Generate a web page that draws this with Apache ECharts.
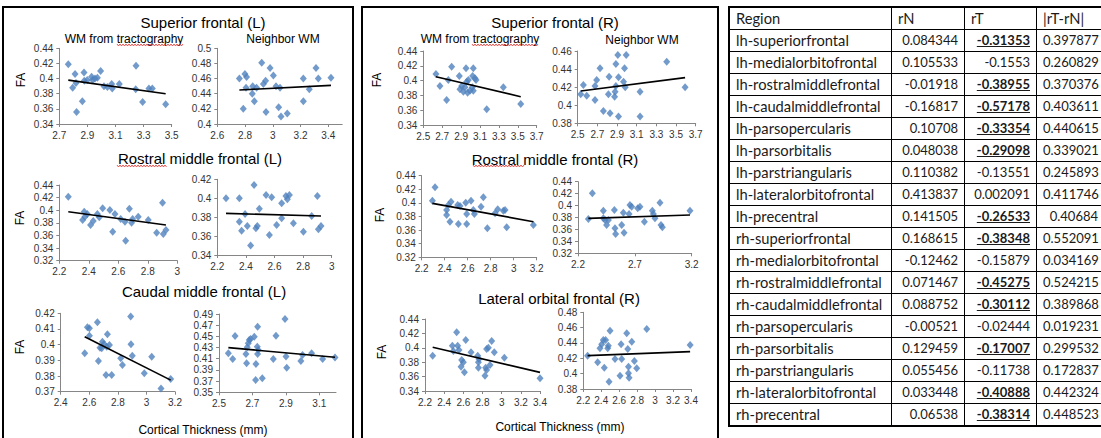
<!DOCTYPE html>
<html>
<head>
<meta charset="utf-8">
<script src="https://cdn.jsdelivr.net/npm/echarts@6/dist/echarts.min.js"></script>
<style>
html, body { margin: 0; padding: 0; width: 1101px; height: 438px; overflow: hidden; background: #fff; }
#chart { position: absolute; left: 0; top: 0; width: 725px; height: 438px; }
#tbl { position: absolute; left: 728px; top: 6px; border-collapse: separate; border-spacing: 0; table-layout: fixed;
       width: 373px; border-top: 2px solid #000; border-left: 2px solid #000;
       font-family: Lato, 'Liberation Sans', sans-serif; font-size: 14.7px; color: #1a1a1a; }
#tbl td { box-sizing: border-box; border-right: 1px solid #000; border-bottom: 1px solid #000; height: 22px;
          padding: 0 6px 0 6px; white-space: nowrap; overflow: hidden; line-height: 21px; }
#tbl tr:last-child td { border-bottom: 2px solid #000; height: 23px; }
#tbl td:last-child { border-right: none; padding-right: 3px; }
#tbl td.num { text-align: right; font-size: 13px; }
#tbl td.sig { font-weight: bold; text-decoration: underline; }
</style>
</head>
<body>
<div id="chart"></div>
<table id="tbl">
  <colgroup><col style="width:162px"><col style="width:73px"><col style="width:72px"><col style="width:64px"></colgroup>
  <tbody id="tbody"></tbody>
</table>
<script>
// ---- scatter data [cortical thickness, FA] ----
const sfL_tract = [[2.764,0.419],[2.795,0.388],[2.812,0.406],[2.819,0.394],[2.823,0.356],[2.864,0.370],[2.876,0.408],[2.878,0.397],[2.899,0.398],[2.930,0.4025],[2.937,0.398],[2.954,0.400],[2.971,0.401],[2.994,0.410],[3.018,0.390],[3.042,0.389],[3.073,0.393],[3.077,0.387],[3.127,0.393],[3.246,0.417],[3.244,0.386],[3.293,0.369],[3.338,0.387],[3.362,0.387],[3.457,0.366]];
const sfL_tract_fit = [[2.764,0.398],[3.457,0.380]];
const sfL_neigh = [[2.759,0.460],[2.787,0.420],[2.799,0.466],[2.811,0.462],[2.807,0.448],[2.852,0.440],[2.855,0.450],[2.867,0.430],[2.883,0.448],[2.920,0.481],[2.932,0.453],[2.948,0.457],[2.951,0.416],[2.980,0.474],[3.004,0.464],[3.023,0.450],[3.042,0.422],[3.052,0.448],[3.059,0.410],[3.104,0.414],[3.220,0.430],[3.220,0.460],[3.263,0.446],[3.311,0.474],[3.328,0.460],[3.419,0.461]];
const sfL_neigh_fit = [[2.759,0.445],[3.419,0.451]];

const rmfL_tract = [[2.261,0.4215],[2.358,0.3845],[2.369,0.3977],[2.374,0.3898],[2.390,0.394],[2.412,0.3766],[2.430,0.383],[2.458,0.394],[2.471,0.3887],[2.494,0.403],[2.543,0.4004],[2.562,0.366],[2.577,0.394],[2.616,0.386],[2.645,0.3818],[2.650,0.3517],[2.675,0.4025],[2.690,0.380],[2.697,0.386],[2.735,0.3898],[2.803,0.3845],[2.860,0.3644],[2.900,0.412],[2.905,0.3623],[2.923,0.3686]];
const rmfL_tract_fit = [[2.261,0.3977],[2.923,0.3766]];
const rmfL_neigh = [[2.261,0.400],[2.354,0.400],[2.354,0.3752],[2.370,0.3657],[2.394,0.3833],[2.410,0.3707],[2.433,0.350],[2.457,0.414],[2.470,0.3682],[2.480,0.3707],[2.494,0.389],[2.541,0.4034],[2.564,0.3611],[2.580,0.401],[2.615,0.3717],[2.650,0.3946],[2.650,0.3788],[2.680,0.4024],[2.690,0.3989],[2.704,0.4034],[2.732,0.3735],[2.802,0.3647],[2.860,0.3812],[2.900,0.4024],[2.907,0.3671],[2.925,0.3707]];
const rmfL_neigh_fit = [[2.261,0.384],[2.925,0.3812]];

const cmfL_tract = [[2.568,0.3945],[2.587,0.4111],[2.601,0.4104],[2.601,0.4057],[2.657,0.4143],[2.664,0.3896],[2.675,0.3981],[2.687,0.3977],[2.692,0.4019],[2.703,0.4004],[2.717,0.3806],[2.722,0.3987],[2.727,0.4066],[2.741,0.3998],[2.757,0.3806],[2.820,0.3913],[2.832,0.387],[2.890,0.4179],[2.892,0.4002],[2.901,0.393],[2.985,0.3817],[3.037,0.3923],[3.102,0.3721],[3.170,0.3781]];
const cmfL_tract_fit = [[2.568,0.4051],[3.170,0.3774]];
const cmfL_neigh = [[2.556,0.4197],[2.582,0.4096],[2.596,0.4507],[2.661,0.4185],[2.665,0.4018],[2.669,0.4304],[2.675,0.4376],[2.681,0.4435],[2.689,0.4453],[2.711,0.4495],[2.719,0.372],[2.721,0.4006],[2.729,0.4316],[2.731,0.4674],[2.731,0.4185],[2.735,0.4257],[2.759,0.375],[2.825,0.4096],[2.841,0.4513],[2.895,0.4811],[2.901,0.4138],[2.905,0.3941],[2.990,0.406],[3.000,0.4167],[3.054,0.4197],[3.120,0.4096],[3.194,0.412]];
const cmfL_neigh_fit = [[2.556,0.4298],[3.194,0.4126]];

const sfR_tract = [[2.634,0.4089],[2.676,0.3927],[2.747,0.3738],[2.765,0.4008],[2.800,0.4188],[2.881,0.4062],[2.888,0.3882],[2.906,0.3927],[2.924,0.385],[2.941,0.3909],[2.952,0.4166],[2.959,0.3986],[2.969,0.3837],[2.976,0.4008],[2.994,0.3864],[3.019,0.3909],[3.022,0.4062],[3.029,0.4166],[3.029,0.3864],[3.047,0.4031],[3.058,0.4008],[3.171,0.3612],[3.347,0.3909],[3.531,0.3684]];
const sfR_tract_fit = [[2.634,0.4053],[3.531,0.3783]];
const sfR_neigh = [[2.531,0.4121],[2.558,0.4224],[2.592,0.4106],[2.676,0.4213],[2.693,0.4279],[2.676,0.4058],[2.727,0.4408],[2.761,0.3936],[2.812,0.4121],[2.819,0.4316],[2.829,0.3911],[2.880,0.415],[2.875,0.4095],[2.888,0.4213],[2.888,0.4456],[2.908,0.4556],[2.915,0.4309],[2.915,0.3874],[2.966,0.4261],[2.976,0.4408],[2.983,0.4198],[2.993,0.4556],[3.134,0.415],[3.134,0.3874],[3.405,0.4482],[3.592,0.4198]];
const sfR_neigh_fit = [[2.531,0.4158],[3.592,0.4305]];

const rmfR_tract = [[2.293,0.4033],[2.316,0.4229],[2.417,0.3896],[2.417,0.3822],[2.432,0.3969],[2.446,0.3724],[2.455,0.4018],[2.513,0.3969],[2.519,0.369],[2.533,0.3954],[2.583,0.4003],[2.591,0.3837],[2.591,0.369],[2.629,0.4033],[2.649,0.3896],[2.658,0.3837],[2.716,0.3944],[2.736,0.4082],[2.771,0.3627],[2.838,0.3847],[2.861,0.3905],[2.910,0.3886],[2.925,0.3896],[2.939,0.3641],[3.171,0.3675]];
const rmfR_tract_fit = [[2.293,0.3993],[3.171,0.3724]];
const rmfR_neigh = [[2.291,0.3775],[2.326,0.4205],[2.423,0.3914],[2.423,0.3786],[2.438,0.3758],[2.452,0.3674],[2.467,0.3758],[2.520,0.3926],[2.525,0.3619],[2.531,0.3524],[2.584,0.3674],[2.599,0.3881],[2.605,0.3546],[2.649,0.3859],[2.657,0.4009],[2.672,0.3981],[2.725,0.3953],[2.745,0.3981],[2.784,0.373],[2.854,0.3914],[2.863,0.3859],[2.877,0.3786],[2.921,0.4048],[2.930,0.3674],[2.942,0.3635],[3.185,0.3914]];
const rmfR_neigh_fit = [[2.291,0.3786],[3.185,0.3842]];

const lofR_tract = [[2.280,0.3891],[2.485,0.403],[2.496,0.3956],[2.530,0.4215],[2.541,0.403],[2.555,0.3969],[2.576,0.3738],[2.583,0.3831],[2.600,0.3799],[2.611,0.3659],[2.625,0.4108],[2.680,0.3937],[2.750,0.3891],[2.757,0.3799],[2.757,0.3724],[2.763,0.3845],[2.826,0.3613],[2.833,0.3724],[2.843,0.3983],[2.843,0.3692],[2.861,0.4002],[2.878,0.3761],[2.896,0.4094],[2.923,0.3937],[3.028,0.3863],[3.400,0.3576]];
const lofR_tract_fit = [[2.280,0.4007],[3.400,0.3659]];
const lofR_neigh = [[2.248,0.4235],[2.360,0.4148],[2.386,0.433],[2.405,0.4383],[2.423,0.4439],[2.434,0.4078],[2.449,0.4439],[2.472,0.433],[2.479,0.4365],[2.487,0.3896],[2.498,0.4561],[2.553,0.4191],[2.609,0.3974],[2.621,0.4383],[2.628,0.4191],[2.684,0.4526],[2.695,0.4322],[2.703,0.4091],[2.703,0.4004],[2.710,0.3948],[2.740,0.4417],[2.769,0.4165],[2.795,0.4069],[2.907,0.4583],[3.390,0.4374]];
const lofR_neigh_fit = [[2.248,0.4235],[3.390,0.4287]];

// axis scales: [min, max, interval]
const xScales = [[2.7,3.5,0.2],[2.6,3.5,0.2],[2.2,3.0,0.2],[2.2,3.0,0.2],[2.4,3.2,0.2],[2.5,3.2,0.2],
                 [2.5,3.7,0.2],[2.5,3.7,0.2],[2.2,3.2,0.2],[2.2,3.2,0.5],[2.2,3.4,0.2],[2.2,3.4,0.2]];
const yScales = [[0.34,0.44,0.02],[0.4,0.5,0.02],[0.32,0.44,0.02],[0.34,0.42,0.02],[0.37,0.42,0.01],[0.35,0.49,0.02],
                 [0.34,0.44,0.02],[0.38,0.46,0.02],[0.32,0.44,0.02],[0.32,0.44,0.02],[0.34,0.44,0.02],[0.38,0.48,0.02]];
const xLabelMax = [true,false,true,true,true,false,true,true,true,true,true,true];

// ---- table ----
const regions = ['lh-superiorfrontal','lh-medialorbitofrontal','lh-rostralmiddlefrontal','lh-caudalmiddlefrontal','lh-parsopercularis','lh-parsorbitalis','lh-parstriangularis','lh-lateralorbitofrontal','lh-precentral',
                 'rh-superiorfrontal','rh-medialorbitofrontal','rh-rostralmiddlefrontal','rh-caudalmiddlefrontal','rh-parsopercularis','rh-parsorbitalis','rh-parstriangularis','rh-lateralorbitofrontal','rh-precentral'];
const rN = ['0.084344','0.105533','-0.01918','-0.16817','0.10708','0.048038','0.110382','0.413837','0.141505',
            '0.168615','-0.12462','0.071467','0.088752','-0.00521','0.129459','0.055456','0.033448','0.06538'];
const rT = ['-0.31353','-0.1553','-0.38955','-0.57178','-0.33354','-0.29098','-0.13551','0.002091','-0.26533',
            '-0.38348','-0.15879','-0.45275','-0.30112','-0.02444','-0.17007','-0.11738','-0.40888','-0.38314'];
const rTSig = [1,0,1,1,1,1,0,0,1, 1,0,1,1,0,1,0,1,1];
const rDiff = ['0.397877','0.260829','0.370376','0.403611','0.440615','0.339021','0.245893','0.411746','0.40684',
               '0.552091','0.034169','0.524215','0.389868','0.019231','0.299532','0.172837','0.442324','0.448523'];

const tbody = document.getElementById('tbody');
let html = '<tr><td>Region</td><td>rN</td><td>rT</td><td>|rT-rN|</td></tr>';
regions.forEach((r, i) => {
    html += `<tr><td>${r}</td><td class="num">${rN[i]}</td><td class="num${rTSig[i] ? ' sig' : ''}">${rT[i]}</td><td class="num">${rDiff[i]}</td></tr>`;
});
tbody.innerHTML = html;

// ---- charts ----
const scatterSets = [sfL_tract, sfL_neigh, rmfL_tract, rmfL_neigh, cmfL_tract, cmfL_neigh,
                     sfR_tract, sfR_neigh, rmfR_tract, rmfR_neigh, lofR_tract, lofR_neigh];
const fitSets = [sfL_tract_fit, sfL_neigh_fit, rmfL_tract_fit, rmfL_neigh_fit, cmfL_tract_fit, cmfL_neigh_fit,
                 sfR_tract_fit, sfR_neigh_fit, rmfR_tract_fit, rmfR_neigh_fit, lofR_tract_fit, lofR_neigh_fit];
// plot boxes [left, top, width, height]
const boxes = [
    [59.3, 48.3, 112.4, 75.7], [217.3, 48.3, 124.9, 75.7],
    [59.3, 185, 118, 75.7],    [217.3, 179.3, 114.4, 75.7],
    [60.7, 313.3, 114.3, 78.4],[219, 314, 117, 78.3],
    [423.3, 51, 113.4, 74],    [577.7, 51, 118, 72.3],
    [421.7, 175.7, 115, 81.6], [578, 181.7, 113.7, 71.6],
    [425, 319, 115, 72],       [583.3, 312.3, 107.7, 76.7]
];

const FONT = "'Liberation Sans', Arial, sans-serif";
const axisColor = '#868686';
const grid = [], xAxis = [], yAxis = [], series = [];
boxes.forEach((b, i) => {
    grid.push({ left: b[0], top: b[1], width: b[2], height: b[3], outerBoundsMode: 'none' });
    xAxis.push({
        type: 'value', gridIndex: i, min: xScales[i][0], max: xScales[i][1], interval: xScales[i][2],
        axisLine: { show: true, onZero: false, lineStyle: { color: axisColor } },
        axisTick: { show: true, length: 3, lineStyle: { color: axisColor } },
        splitLine: { show: false },
        axisLabel: { fontSize: 10, color: '#333', fontFamily: FONT, margin: 6, showMaxLabel: xLabelMax[i] }
    });
    yAxis.push({
        type: 'value', gridIndex: i, min: yScales[i][0], max: yScales[i][1], interval: yScales[i][2],
        axisLine: { show: true, onZero: false, lineStyle: { color: axisColor } },
        axisTick: { show: true, length: 3, lineStyle: { color: axisColor } },
        splitLine: { show: false },
        axisLabel: { fontSize: 10, color: '#333', fontFamily: FONT, margin: 6 }
    });
    series.push({
        type: 'scatter', xAxisIndex: i, yAxisIndex: i, data: scatterSets[i],
        symbol: 'diamond', symbolSize: [7, 8], itemStyle: { color: '#4F81BD' }, z: 2
    });
    series.push({
        type: 'line', xAxisIndex: i, yAxisIndex: i, data: fitSets[i], symbol: 'none',
        lineStyle: { color: '#000', width: 1.6 }, z: 3, silent: true
    });
});

function txt(s, x, y, size, rot) {
    return { type: 'text', x: x, y: y, rotation: rot || 0, silent: true,
             style: { text: s, fontSize: size, fontFamily: FONT, fill: '#000',
                      align: 'center', verticalAlign: 'middle', textAlign: 'center', textVerticalAlign: 'middle' } };
}
function squiggle(x0, x1, y) {
    const pts = [];
    for (let x = x0, k = 0; x <= x1; x += 1.5, k++) pts.push([x, y + (k % 2 ? 1 : -1)]);
    return { type: 'polyline', silent: true, shape: { points: pts }, style: { stroke: '#e0302a', lineWidth: 0.8, fill: null } };
}

const graphic = [
    { type: 'rect', silent: true, shape: { x: 3, y: 7, width: 350, height: 440 }, style: { fill: 'none', stroke: '#000', lineWidth: 2 } },
    { type: 'rect', silent: true, shape: { x: 362, y: 7, width: 356, height: 440 }, style: { fill: 'none', stroke: '#000', lineWidth: 2 } },
    txt('Superior frontal (L)', 203, 22, 15),
    txt('WM from tractography', 124, 39, 12),
    txt('Neighbor WM', 283, 39, 12),
    txt('Rostral middle frontal (L)', 200, 158, 15),
    txt('Caudal middle frontal (L)', 204, 291, 15),
    txt('Cortical Thickness (mm)', 203, 430, 12),
    txt('FA', 21, 80, 12, Math.PI / 2),
    txt('FA', 20, 218, 12, Math.PI / 2),
    txt('FA', 20, 347, 12, Math.PI / 2),
    txt('Superior frontal (R)', 555, 22, 15),
    txt('WM from tractography', 480, 39, 12),
    txt('Neighbor WM', 642, 40, 12),
    txt('Rostral middle frontal (R)', 555, 159, 15),
    txt('Lateral orbital frontal (R)', 559, 298, 15),
    txt('Cortical Thickness (mm)', 560, 427, 12),
    txt('FA', 377, 80, 12, Math.PI / 2),
    txt('FA', 380, 215, 12, Math.PI / 2),
    txt('FA', 382, 352, 12, Math.PI / 2),
    squiggle(117, 183, 45),
    squiggle(472, 538, 45),
    squiggle(117, 167, 166),
    squiggle(473, 524, 166)
];

const myChart = echarts.init(document.getElementById('chart'), null, { renderer: 'svg' });
myChart.setOption({
    animation: false,
    textStyle: { fontFamily: FONT },
    grid: grid,
    xAxis: xAxis,
    yAxis: yAxis,
    series: series,
    graphic: graphic
});
</script>
</body>
</html>
